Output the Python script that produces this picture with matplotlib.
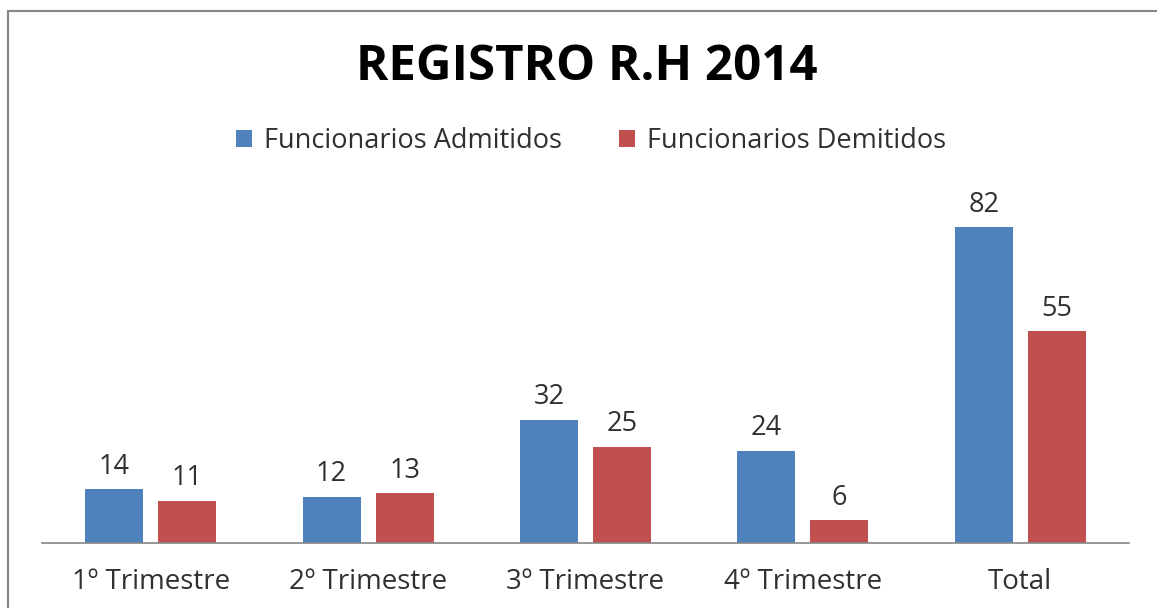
import matplotlib.pyplot as plt
import numpy as np
from matplotlib.patches import Rectangle

categories = ['1º Trimestre', '2º Trimestre', '3º Trimestre', '4º Trimestre', 'Total']
admitidos = [14, 12, 32, 24, 82]
demitidos = [11, 13, 25, 6, 55]
seriesLabels = ['Funcionarios Admitidos', 'Funcionarios Demitidos']
seriesColors = ['#4F81BD', '#C0504D']
textColor = '#303030'

plt.rcParams['font.family'] = ['Open Sans', 'DejaVu Sans']

W, H = 1157, 608
fig = plt.figure(figsize=(W / 100, H / 100), dpi=100)
fig.patch.set_facecolor('white')

# axes placed in pixel terms
axLeft, axRight, axBottom, axTop = 42, 1129, 543, 180
ax = fig.add_axes([axLeft / W, 1 - axBottom / H, (axRight - axLeft) / W, (axBottom - axTop) / H])
pxPerUnit = 316 / 82
ax.set_ylim(0, (axBottom - axTop) / pxPerUnit)
ax.set_xlim(-0.5, len(categories) - 0.5)

x = np.arange(len(categories))
barWidth = 0.267
offset = 0.168
bars1 = ax.bar(x - offset, admitidos, barWidth, color=seriesColors[0], label=seriesLabels[0])
bars2 = ax.bar(x + offset, demitidos, barWidth, color=seriesColors[1], label=seriesLabels[1])
for bars in (bars1, bars2):
    ax.bar_label(bars, padding=6, fontsize=19.5, color=textColor)

for side in ['top', 'right', 'left']:
    ax.spines[side].set_visible(False)
ax.spines['bottom'].set_color('#868686')
ax.spines['bottom'].set_linewidth(1.2)
ax.set_yticks([])
ax.set_xticks(x)
ax.set_xticklabels(categories, fontsize=20, color=textColor)
ax.tick_params(axis='x', length=0, pad=18)

fig.text(587 / W, 1 - 67 / H, 'REGISTRO R.H 2014', ha='center', va='center',
         fontsize=35.5, fontweight='bold', color='black')

fig.legend(handles=[bars1, bars2], labels=seriesLabels, loc='center',
           bbox_to_anchor=(591 / W, 1 - 141 / H), ncol=2, frameon=False,
           fontsize=19.5, labelcolor=textColor, handlelength=0.6, handleheight=0.6,
           handletextpad=0.45, columnspacing=2.1)

# chart border (extends past the right and bottom edges)
fig.patches.append(Rectangle((8 / W, -0.1), 2.0, 1 - 11 / H + 0.1, transform=fig.transFigure,
                             fill=False, edgecolor='#868686', linewidth=1.5))

fig.savefig('out.png', dpi=100)
